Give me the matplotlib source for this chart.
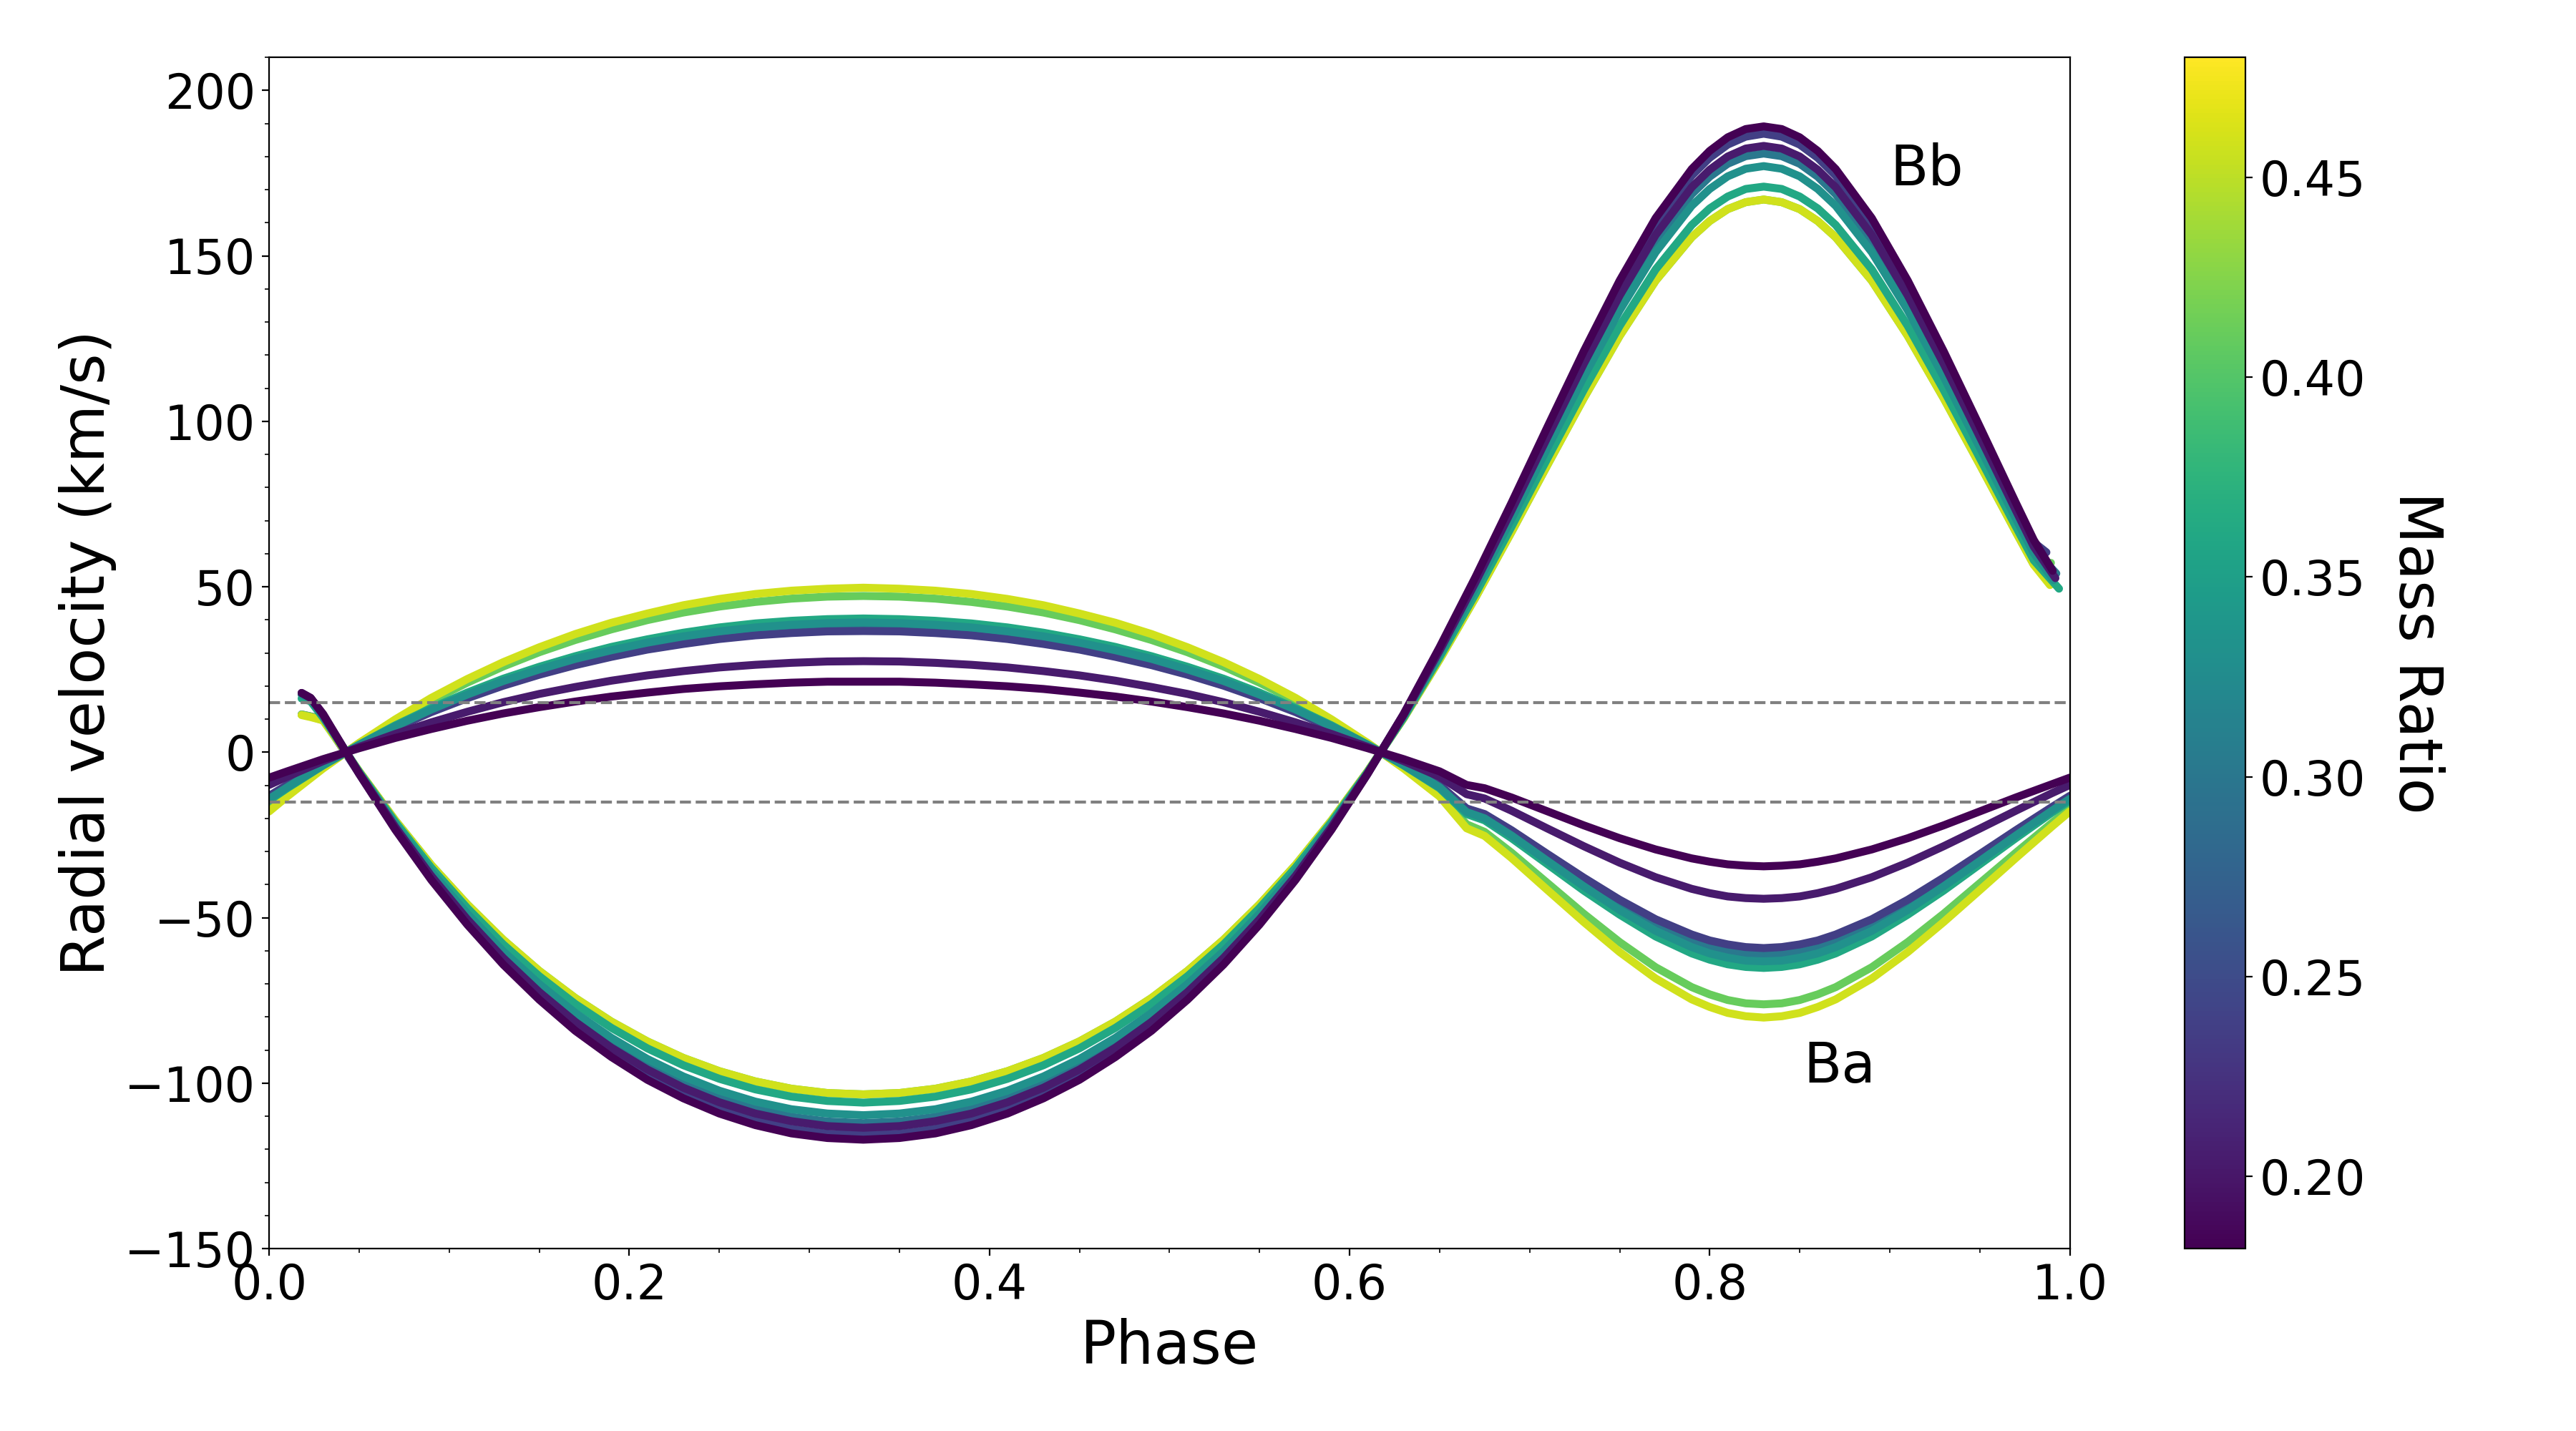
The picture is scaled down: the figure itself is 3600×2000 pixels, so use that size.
import matplotlib
matplotlib.use("Agg")
import matplotlib.pyplot as plt
from matplotlib import colors, cm

# mass ratio of each model (listed in the order the curves are drawn)
mass_ratio = [0.301, 0.237, 0.411, 0.459, 0.361, 0.331, 0.203, 0.182]

# ---- primary (Ba) curves ----
phase_ba = [0.0, 0.01, 0.03, 0.05, 0.07, 0.09, 0.11, 0.13, 0.15, 0.17, 0.19, 0.21, 0.23, 0.25, 0.27, 0.29, 0.31,
            0.33, 0.35, 0.37, 0.39, 0.41, 0.43, 0.45, 0.47, 0.49, 0.51, 0.53, 0.55, 0.57, 0.59, 0.61, 0.63,
            0.65, 0.665, 0.675,
            0.69, 0.71, 0.73, 0.75, 0.77, 0.79, 0.80, 0.81, 0.82, 0.83, 0.84, 0.85, 0.86, 0.87, 0.89, 0.91,
            0.93, 0.95, 0.97, 0.99, 1.0]

ba_q301 = [-13.6, -10.2, -3.7, 2.1, 7.6, 12.5, 16.9, 20.8, 24.2, 27.2, 29.8, 32.0, 33.8, 35.3, 36.4, 37.2, 37.7,
           37.9, 37.7, 37.2, 36.4, 35.3, 33.8, 32.0, 29.8, 27.2, 24.2, 20.8, 16.9, 12.5, 7.6, 2.1, -3.7,
           -10.2, -17.5, -19.3,
           -24.4, -31.8, -39.1, -46.1, -52.2, -57.0, -58.8, -60.1, -60.9, -61.1, -60.9, -60.1, -58.8, -57.0, -52.2, -46.1,
           -39.1, -31.8, -24.4, -17.2, -13.6]
ba_q237 = [-13.2, -9.9, -3.6, 2.1, 7.3, 12.1, 16.3, 20.1, 23.4, 26.3, 28.8, 31.0, 32.7, 34.2, 35.3, 36.0, 36.5,
           36.6, 36.5, 36.0, 35.3, 34.2, 32.7, 31.0, 28.8, 26.3, 23.4, 20.1, 16.3, 12.1, 7.3, 2.1, -3.6,
           -9.9, -17.0, -18.7,
           -23.6, -30.8, -37.9, -44.6, -50.5, -55.1, -56.9, -58.1, -58.9, -59.2, -58.9, -58.1, -56.9, -55.1, -50.5, -44.6,
           -37.9, -30.8, -23.6, -16.6, -13.2]
ba_q411 = [-17.0, -12.8, -4.7, 2.7, 9.4, 15.5, 21.0, 25.9, 30.2, 33.9, 37.1, 39.9, 42.2, 44.0, 45.4, 46.4, 47.0,
           47.2, 47.0, 46.4, 45.4, 44.0, 42.2, 39.9, 37.1, 33.9, 30.2, 25.9, 21.0, 15.5, 9.4, 2.7, -4.7,
           -12.8, -21.8, -24.1,
           -30.4, -39.6, -48.8, -57.4, -65.0, -71.0, -73.2, -74.9, -75.9, -76.2, -75.9, -74.9, -73.2, -71.0, -65.0, -57.4,
           -48.8, -39.6, -30.4, -21.4, -17.0]
ba_q459 = [-17.9, -13.4, -4.9, 2.8, 9.9, 16.4, 22.1, 27.2, 31.7, 35.7, 39.1, 41.9, 44.4, 46.3, 47.8, 48.8, 49.4,
           49.7, 49.4, 48.8, 47.8, 46.3, 44.4, 41.9, 39.1, 35.7, 31.7, 27.2, 22.1, 16.4, 9.9, 2.8, -4.9,
           -13.4, -23.0, -25.3,
           -32.0, -41.7, -51.3, -60.4, -68.4, -74.7, -77.0, -78.8, -79.8, -80.2, -79.8, -78.8, -77.0, -74.7, -68.4, -60.4,
           -51.3, -41.7, -32.0, -22.5, -17.9]
ba_q361 = [-14.6, -10.9, -4.0, 2.3, 8.1, 13.3, 18.0, 22.2, 25.8, 29.0, 31.8, 34.1, 36.1, 37.7, 38.9, 39.7, 40.2,
           40.4, 40.2, 39.7, 38.9, 37.7, 36.1, 34.1, 31.8, 29.0, 25.8, 22.2, 18.0, 13.3, 8.1, 2.3, -4.0,
           -10.9, -18.7, -20.6,
           -26.0, -33.9, -41.8, -49.1, -55.7, -60.8, -62.7, -64.1, -64.9, -65.2, -64.9, -64.1, -62.7, -60.8, -55.7, -49.1,
           -41.8, -33.9, -26.0, -18.3, -14.6]
ba_q331 = [-14.1, -10.6, -3.9, 2.2, 7.8, 12.9, 17.4, 21.5, 25.0, 28.2, 30.8, 33.1, 35.0, 36.5, 37.7, 38.5, 39.0,
           39.2, 39.0, 38.5, 37.7, 36.5, 35.0, 33.1, 30.8, 28.2, 25.0, 21.5, 17.4, 12.9, 7.8, 2.2, -3.9,
           -10.6, -18.1, -20.0,
           -25.2, -32.9, -40.5, -47.7, -54.0, -58.9, -60.8, -62.1, -63.0, -63.2, -63.0, -62.1, -60.8, -58.9, -54.0, -47.7,
           -40.5, -32.9, -25.2, -17.7, -14.1]
ba_q203 = [-9.9, -7.4, -2.7, 1.6, 5.5, 9.0, 12.2, 15.1, 17.6, 19.7, 21.6, 23.2, 24.5, 25.6, 26.4, 27.0, 27.4,
           27.5, 27.4, 27.0, 26.4, 25.6, 24.5, 23.2, 21.6, 19.7, 17.6, 15.1, 12.2, 9.0, 5.5, 1.6, -2.7,
           -7.4, -12.7, -14.0,
           -17.7, -23.1, -28.4, -33.4, -37.8, -41.3, -42.6, -43.6, -44.1, -44.3, -44.1, -43.6, -42.6, -41.3, -37.8, -33.4,
           -28.4, -23.1, -17.7, -12.4, -9.9]
ba_q182 = [-7.7, -5.8, -2.1, 1.2, 4.3, 7.0, 9.5, 11.7, 13.6, 15.3, 16.8, 18.0, 19.1, 19.9, 20.5, 21.0, 21.3,
           21.3, 21.3, 21.0, 20.5, 19.9, 19.1, 18.0, 16.8, 15.3, 13.6, 11.7, 9.5, 7.0, 4.3, 1.2, -2.1,
           -5.8, -9.9, -10.9,
           -13.7, -17.9, -22.1, -26.0, -29.4, -32.1, -33.1, -33.9, -34.3, -34.5, -34.3, -33.9, -33.1, -32.1, -29.4, -26.0,
           -22.1, -17.9, -13.7, -9.7, -7.7]

# ---- secondary (Bb) curves ----
phase_bb = [0.018, 0.023, 0.03, 0.05, 0.07, 0.09, 0.11, 0.13, 0.15, 0.17, 0.19, 0.21, 0.23, 0.25, 0.27, 0.29, 0.31,
            0.33, 0.35, 0.37, 0.39, 0.41, 0.43, 0.45, 0.47, 0.49, 0.51, 0.53, 0.55, 0.57, 0.59, 0.61, 0.63,
            0.65, 0.67,
            0.69, 0.71, 0.73, 0.75, 0.77, 0.79, 0.80, 0.81, 0.82, 0.83, 0.84, 0.85, 0.86, 0.87, 0.89, 0.91,
            0.93, 0.95, 0.97, 0.98]

bb_q301 = [17.6, 16.2, 11.0, -6.3, -22.4, -36.9, -49.9, -61.5, -71.6, -80.6, -88.2, -94.7, -100.1, -104.5, -107.8, -110.2, -111.6,
           -112.1, -111.6, -110.2, -107.8, -104.5, -100.1, -94.7, -88.2, -80.6, -71.6, -61.5, -49.9, -36.9, -22.4, -6.3, 11.0,
           30.3, 50.8,
           72.2, 94.1, 115.8, 136.4, 154.4, 168.6, 173.9, 177.8, 180.1, 180.9, 180.1, 177.8, 173.9, 168.6, 154.4, 136.4,
           115.8, 94.1, 72.2, 61.4]
bb_q237 = [11.4, 10.8, 10.0, -6.5, -23.1, -38.1, -51.5, -63.5, -74.0, -83.2, -91.1, -97.8, -103.4, -107.9, -111.4, -113.8, -115.3,
           -115.7, -115.3, -113.8, -111.4, -107.9, -103.4, -97.8, -91.1, -83.2, -74.0, -63.5, -51.5, -38.1, -23.1, -6.5, 11.4,
           31.3, 52.4,
           74.5, 97.2, 119.6, 140.8, 159.5, 174.2, 179.6, 183.6, 186.0, 186.9, 186.0, 183.6, 179.6, 174.2, 159.5, 140.8,
           119.6, 97.2, 74.5, 63.4]
bb_q411 = [11.4, 10.8, 9.6, -5.8, -20.6, -34.1, -46.0, -56.7, -66.1, -74.3, -81.4, -87.4, -92.4, -96.4, -99.5, -101.7, -103.0,
           -103.4, -103.0, -101.7, -99.5, -96.4, -92.4, -87.4, -81.4, -74.3, -66.1, -56.7, -46.0, -34.1, -20.6, -5.8, 10.2,
           28.0, 46.8,
           66.6, 86.9, 106.9, 125.8, 142.5, 155.6, 160.5, 164.1, 166.2, 167.0, 166.2, 164.1, 160.5, 155.6, 142.5, 125.8,
           106.9, 86.9, 66.6, 56.7]
bb_q459 = [11.2, 10.6, 9.6, -5.8, -20.6, -34.1, -46.0, -56.7, -66.1, -74.3, -81.4, -87.4, -92.4, -96.4, -99.5, -101.7, -103.0,
           -103.4, -103.0, -101.7, -99.5, -96.4, -92.4, -87.4, -81.4, -74.3, -66.1, -56.7, -46.0, -34.1, -20.6, -5.8, 10.2,
           28.0, 46.8,
           66.6, 86.9, 106.9, 125.8, 142.5, 155.6, 160.5, 164.1, 166.2, 167.0, 166.2, 164.1, 160.5, 155.6, 142.5, 125.8,
           106.9, 86.9, 66.6, 56.6]
bb_q361 = [16.2, 15.4, 10.4, -6.0, -21.1, -34.9, -47.1, -58.1, -67.7, -76.1, -83.3, -89.5, -94.6, -98.7, -101.9, -104.1, -105.4,
           -105.9, -105.4, -104.1, -101.9, -98.7, -94.6, -89.5, -83.3, -76.1, -67.7, -58.1, -47.1, -34.9, -21.1, -6.0, 10.4,
           28.7, 47.9,
           68.2, 88.9, 109.4, 128.8, 145.9, 159.3, 164.3, 167.9, 170.2, 170.9, 170.2, 167.9, 164.3, 159.3, 145.9, 128.8,
           109.4, 88.9, 68.2, 58.0]
bb_q331 = [17.4, 16.0, 10.8, -6.2, -21.9, -36.1, -48.8, -60.2, -70.1, -78.8, -86.3, -92.7, -98.0, -102.3, -105.6, -107.9, -109.2,
           -109.7, -109.2, -107.9, -105.6, -102.3, -98.0, -92.7, -86.3, -78.8, -70.1, -60.2, -48.8, -36.1, -21.9, -6.2, 10.8,
           29.7, 49.7,
           70.6, 92.1, 113.4, 133.5, 151.1, 165.1, 170.2, 174.0, 176.3, 177.1, 176.3, 174.0, 170.2, 165.1, 151.1, 133.5,
           113.4, 92.1, 70.6, 60.1]
bb_q203 = [17.9, 16.4, 11.2, -6.4, -22.6, -37.4, -50.5, -62.2, -72.5, -81.5, -89.3, -95.9, -101.4, -105.8, -109.2, -111.5, -113.0,
           -113.5, -113.0, -111.5, -109.2, -105.8, -101.4, -95.9, -89.3, -81.5, -72.5, -62.2, -50.5, -37.4, -22.6, -6.4, 11.2,
           30.7, 51.4,
           73.1, 95.3, 117.3, 138.0, 156.3, 170.7, 176.0, 180.0, 182.4, 183.2, 182.4, 180.0, 176.0, 170.7, 156.3, 138.0,
           117.3, 95.3, 73.1, 62.1]
bb_q182 = [17.9, 16.4, 11.5, -6.6, -23.4, -38.6, -52.1, -64.2, -74.8, -84.2, -92.1, -99.0, -104.6, -109.2, -112.7, -115.2, -116.6,
           -117.1, -116.6, -115.2, -112.7, -109.2, -104.6, -99.0, -92.1, -84.2, -74.8, -64.2, -52.1, -38.6, -23.4, -6.6, 11.5,
           31.7, 53.0,
           75.4, 98.4, 121.1, 142.5, 161.4, 176.2, 181.7, 185.8, 188.3, 189.1, 188.3, 185.8, 181.7, 176.2, 161.4, 142.5,
           121.1, 98.4, 75.4, 64.1]

# last point of each Bb curve (small hook at the end of the orbit)
bb_end_phase = [0.9925, 0.987, 0.9895, 0.989, 0.994, 0.991, 0.992, 0.9905]
bb_end_rv = [54.0, 60.4, 57.2, 50.5, 49.4, 52.0, 52.6, 54.8]

ba_curves = [ba_q301, ba_q237, ba_q411, ba_q459, ba_q361, ba_q331, ba_q203, ba_q182]
bb_curves = [bb_q301, bb_q237, bb_q411, bb_q459, bb_q361, bb_q331, bb_q203, bb_q182]

norm = colors.Normalize(vmin=0.182, vmax=0.48)
cmap = plt.get_cmap('viridis')

fig = plt.figure(figsize=(18, 10), dpi=200)
ax = fig.add_axes([0.1045, 0.1275, 0.699, 0.8325])
cax = fig.add_axes([0.848, 0.1275, 0.0236, 0.8325])

for q, ba, bb, ep, ev in zip(mass_ratio, ba_curves, bb_curves, bb_end_phase, bb_end_rv):
    c = cmap(norm(q))
    ax.plot(phase_ba, ba, color=c, lw=4, solid_capstyle='round', solid_joinstyle='round')
    ax.plot(phase_bb + [ep], bb + [ev], color=c, lw=4, solid_capstyle='round', solid_joinstyle='round')

ax.axhline(15, color='gray', ls='--', lw=1.5)
ax.axhline(-15, color='gray', ls='--', lw=1.5)

ax.text(0.90, 176, 'Bb', fontsize=28, va='center')
ax.text(0.852, -95, 'Ba', fontsize=28, va='center')

ax.set_xlim(0, 1)
ax.set_ylim(-150, 210)
ax.minorticks_on()
ax.tick_params(labelsize=24)
ax.set_xlabel('Phase', fontsize=30)
ax.set_ylabel('Radial velocity (km/s)', fontsize=30)

sm = cm.ScalarMappable(norm=norm, cmap=cmap)
cb = fig.colorbar(sm, cax=cax)
cb.ax.tick_params(labelsize=24)
cb.set_label('Mass Ratio', fontsize=30, rotation=270, labelpad=40)

fig.savefig('out.png', dpi=200)
